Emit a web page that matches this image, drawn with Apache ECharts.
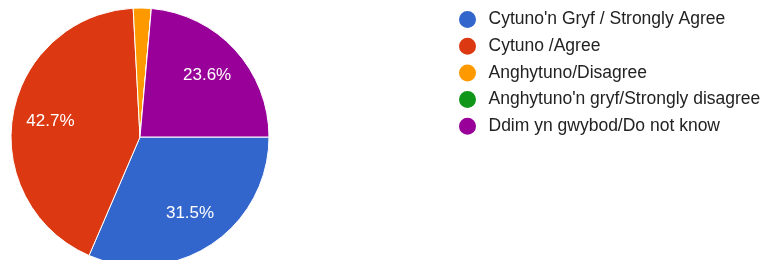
<!DOCTYPE html>
<html>
<head>
<meta charset="utf-8">
<script src="https://cdn.jsdelivr.net/npm/echarts@6/dist/echarts.min.js"></script>
<style>
html,body{margin:0;padding:0;background:#fff;}
#chart{width:762px;height:260px;}
</style>
</head>
<body>
<div id="chart"></div>
<script>
const categories = [
  "Cytuno'n Gryf / Strongly Agree",
  "Cytuno /Agree",
  "Anghytuno/Disagree",
  "Anghytuno'n gryf/Strongly disagree",
  "Ddim yn gwybod/Do not know"
];
const counts = [28, 38, 2, 0, 21];
const colors = ["#3366cc", "#dc3912", "#ff9900", "#109618", "#990099"];
const labelMinPercent = 5;

const chart = echarts.init(document.getElementById('chart'), null, {renderer: 'canvas'});
const baseData = categories.map((c, i) => ({name: c, value: counts[i], itemStyle: {color: colors[i]}}));
const overlayData = categories.map((c, i) => ({name: c, value: counts[i]}));

chart.setOption({
  animation: false,
  backgroundColor: '#ffffff',
  legend: {
    orient: 'vertical',
    left: 452,
    top: 4,
    icon: 'circle',
    itemWidth: 32,
    itemHeight: 19,
    itemGap: 5.7,
    selectedMode: false,
    data: categories,
    textStyle: {fontFamily: 'Liberation Sans, Arial, sans-serif', fontSize: 17.5, color: '#222222'}
  },
  series: [
    {
      type: 'pie',
      center: [140, 137],
      radius: [0, 129],
      startAngle: 0,
      clockwise: true,
      minAngle: 0,
      avoidLabelOverlap: false,
      label: {show: false},
      labelLine: {show: false},
      emphasis: {disabled: true},
      itemStyle: {borderColor: '#ffffff', borderWidth: 1},
      data: baseData
    },
    {
      type: 'pie',
      center: [140, 137],
      radius: [47, 129],
      startAngle: 0,
      clockwise: true,
      silent: true,
      avoidLabelOverlap: false,
      percentPrecision: 1,
      itemStyle: {color: 'rgba(0,0,0,0)', borderWidth: 0},
      labelLine: {show: false},
      emphasis: {disabled: true},
      label: {
        show: true,
        position: 'inside',
        color: '#ffffff',
        fontFamily: 'Liberation Sans, Arial, sans-serif',
        fontSize: 17,
        formatter: p => p.percent >= labelMinPercent ? p.percent.toFixed(1) + '%' : ''
      },
      data: overlayData
    }
  ]
});
</script>
</body>
</html>
